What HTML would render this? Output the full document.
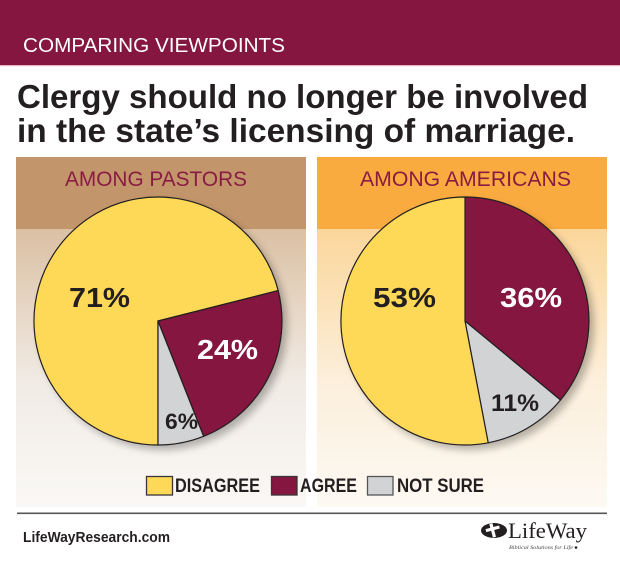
<!DOCTYPE html>
<html>
<head>
<meta charset="utf-8">
<style>
  html,body{margin:0;padding:0;background:#fff;}
  svg{display:block;}
  .t{font-family:"Liberation Sans",sans-serif;}
  .b{font-weight:bold;}
</style>
</head>
<body>
<svg width="620" height="563" viewBox="0 0 620 563" xmlns="http://www.w3.org/2000/svg">
  <defs>
    <linearGradient id="gl" x1="0" y1="0" x2="0" y2="1">
      <stop offset="0" stop-color="#dbc0a3"/>
      <stop offset="0.55" stop-color="#f1ebe5"/>
      <stop offset="1" stop-color="#faf8f6"/>
    </linearGradient>
    <linearGradient id="gr" x1="0" y1="0" x2="0" y2="1">
      <stop offset="0" stop-color="#fbd69a"/>
      <stop offset="0.55" stop-color="#fcefdc"/>
      <stop offset="1" stop-color="#fdf9f3"/>
    </linearGradient>
    <filter id="sh" x="-20%" y="-20%" width="150%" height="150%">
      <feGaussianBlur stdDeviation="4"/>
    </filter>
  </defs>

  <!-- top banner -->
  <rect x="0" y="0" width="620" height="65" fill="#84163f"/>
  <rect x="0" y="65" width="620" height="1.2" fill="#eab3c4"/>
  <text class="t" x="23" y="52" font-size="20" fill="#ffffff" textLength="262" lengthAdjust="spacingAndGlyphs">COMPARING VIEWPOINTS</text>

  <!-- title -->
  <text class="t b" x="17" y="108" font-size="33" fill="#231f20" textLength="571" lengthAdjust="spacingAndGlyphs">Clergy should no longer be involved</text>
  <text class="t b" x="17" y="142" font-size="33" fill="#231f20" textLength="558" lengthAdjust="spacingAndGlyphs">in the state’s licensing of marriage.</text>

  <!-- panels -->
  <rect x="16" y="157" width="290" height="72" fill="#c3956b"/>
  <rect x="16" y="229" width="290" height="278" fill="url(#gl)"/>
  <rect x="317" y="157" width="290" height="72" fill="#f9ab3f"/>
  <rect x="317" y="229" width="290" height="278" fill="url(#gr)"/>

  <text class="t" x="65" y="186" font-size="21" fill="#8a1c44" textLength="182" lengthAdjust="spacingAndGlyphs">AMONG PASTORS</text>
  <text class="t" x="360" y="186" font-size="21" fill="#8a1c44" textLength="211" lengthAdjust="spacingAndGlyphs">AMONG AMERICANS</text>

  <!-- shadows -->
  <circle cx="163" cy="326" r="124" fill="#000" opacity="0.28" filter="url(#sh)"/>
  <circle cx="470" cy="326" r="124" fill="#000" opacity="0.28" filter="url(#sh)"/>

  <!-- left pie -->
  <g stroke="#231f20" stroke-width="1.2" stroke-linejoin="round">
    <path d="M158,321 L278.2,290.6 A124,124 0 1 0 158,445 Z" fill="#fed957"/>
    <path d="M158,321 L203.6,436.3 A124,124 0 0 0 278.2,290.6 Z" fill="#84163f"/>
    <path d="M158,321 L158,445 A124,124 0 0 0 203.6,436.3 Z" fill="#d2d3d5"/>
  </g>
  <!-- right pie -->
  <g stroke="#231f20" stroke-width="1.2" stroke-linejoin="round">
    <path d="M465,321 L465,197 A124,124 0 0 1 560.5,400 Z" fill="#84163f"/>
    <path d="M465,321 L560.5,400 A124,124 0 0 1 488.2,442.8 Z" fill="#d2d3d5"/>
    <path d="M465,321 L488.2,442.8 A124,124 0 1 1 465,197 Z" fill="#fed957"/>
  </g>

  <!-- pie labels -->
  <text class="t b" x="69" y="307" font-size="28" fill="#231f20" textLength="61" lengthAdjust="spacingAndGlyphs">71%</text>
  <text class="t b" x="197" y="359" font-size="28" fill="#ffffff" textLength="61" lengthAdjust="spacingAndGlyphs">24%</text>
  <text class="t b" x="165" y="429" font-size="22" fill="#231f20" textLength="33" lengthAdjust="spacingAndGlyphs">6%</text>
  <text class="t b" x="373" y="307" font-size="28" fill="#231f20" textLength="63" lengthAdjust="spacingAndGlyphs">53%</text>
  <text class="t b" x="500" y="307" font-size="28" fill="#ffffff" textLength="62" lengthAdjust="spacingAndGlyphs">36%</text>
  <text class="t b" x="491" y="411" font-size="24" fill="#231f20" textLength="48" lengthAdjust="spacingAndGlyphs">11%</text>

  <!-- legend -->
  <rect x="146.5" y="476.5" width="26" height="18.5" fill="#fed957" stroke="#3a3536" stroke-width="1.3"/>
  <text class="t b" x="175" y="492" font-size="19" fill="#231f20" textLength="85" lengthAdjust="spacingAndGlyphs">DISAGREE</text>
  <rect x="271.5" y="476.5" width="25.5" height="18.5" fill="#84163f" stroke="#3a3536" stroke-width="1.3"/>
  <text class="t b" x="300" y="492" font-size="19" fill="#231f20" textLength="57" lengthAdjust="spacingAndGlyphs">AGREE</text>
  <rect x="367.5" y="476.5" width="25.5" height="18.5" fill="#d2d3d5" stroke="#555" stroke-width="1.3"/>
  <text class="t b" x="397" y="492" font-size="19" fill="#231f20" textLength="87" lengthAdjust="spacingAndGlyphs">NOT SURE</text>

  <!-- footer -->
  <rect x="17" y="512.5" width="590" height="1.6" fill="#555"/>
  <text class="t b" x="23" y="542" font-size="14.5" fill="#231f20" textLength="147" lengthAdjust="spacingAndGlyphs">LifeWayResearch.com</text>

  <!-- logo -->
  <ellipse cx="494" cy="530.5" rx="13" ry="7.5" fill="#231f20"/>
  <rect x="491" y="523" width="3.2" height="14" fill="#fff" transform="rotate(-15 494 530)"/>
  <rect x="486" y="527" width="14" height="3" fill="#fff" transform="rotate(-15 494 530)"/>
  <text x="508" y="538" font-family="Liberation Serif, serif" font-size="22" fill="#231f20" textLength="79" lengthAdjust="spacingAndGlyphs">LifeWay</text>
  <text x="509" y="549" font-family="Liberation Serif, serif" font-style="italic" font-size="5.5" fill="#444" textLength="64" lengthAdjust="spacingAndGlyphs">Biblical Solutions for Life</text>
  <circle cx="576" cy="547.5" r="1.3" fill="#231f20"/>
</svg>
</body>
</html>
